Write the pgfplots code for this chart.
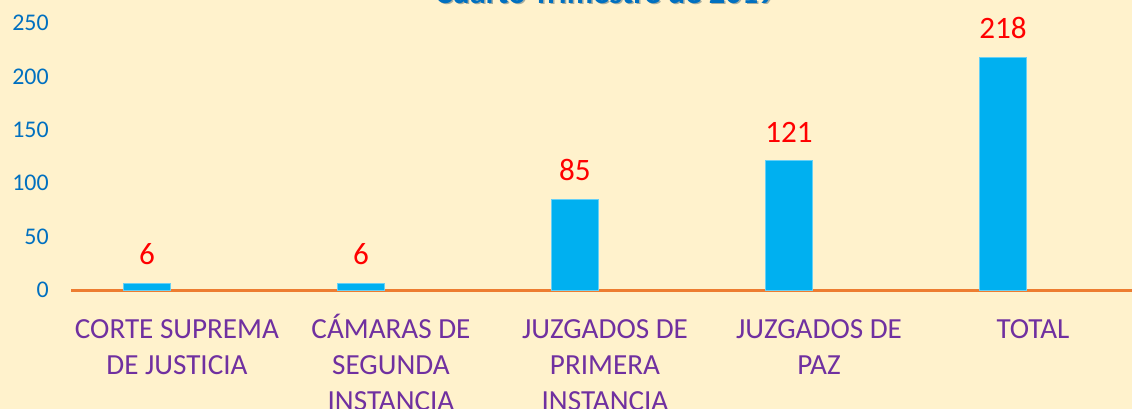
\documentclass[border=0pt]{standalone}
\usepackage{fontspec}
\setmainfont{Carlito}
\usepackage{pgfplots}
\pgfplotsset{compat=1.18}

\definecolor{fondo}{HTML}{FFF2CC}
\definecolor{barra}{HTML}{00B0F0}
\definecolor{naranja}{HTML}{ED7D31}
\definecolor{morado}{HTML}{7030A0}
\definecolor{azul}{HTML}{0070C0}

\begin{document}
\begin{tikzpicture}
  \useasboundingbox[fill=fondo] (0,0) rectangle (452.8bp,163.6bp);
  % title, cut off at the top edge as in the source picture
  \node[anchor=base, font=\fontsize{13}{15}\selectfont\bfseries, text=azul!40!black, opacity=0.35] at (242.6bp,161.6bp) {Cuarto Trimestre de 2019};
  \node[anchor=base, font=\fontsize{13}{15}\selectfont\bfseries, text=azul] at (242bp,162.2bp) {Cuarto Trimestre de 2019};
  \begin{axis}[
      at={(28.4bp,47.6bp)}, anchor=south west,
      scale only axis, width=424.4bp, height=106.8bp,
      ybar, bar width=18.8bp,
      xmin=-0.355, xmax=4.603, ymin=0, ymax=250,
      ytick={0,50,...,250},
      xtick={0,1,2,3,4},
      xticklabels={{\vphantom{Á}CORTE SUPREMA\\DE JUSTICIA},{\vphantom{Á}CÁMARAS DE\\SEGUNDA\\INSTANCIA},{\vphantom{Á}JUZGADOS DE\\PRIMERA\\INSTANCIA},{\vphantom{Á}JUZGADOS DE\\PAZ},{\vphantom{Á}TOTAL}},
      axis x line=bottom, axis y line=left,
      x axis line style={-, draw=naranja, line width=1.2bp},
      y axis line style={draw=none},
      tick style={draw=none},
      /pgf/number format/assume math mode=true,
      yticklabel style={font=\fontsize{9.6}{11}\selectfont, text=azul, anchor=east, inner sep=0pt, xshift=-6.6bp},
      xticklabel style={font=\fontsize{11.7}{14.4}\selectfont, text=morado, align=center, anchor=north, inner sep=0pt, yshift=-7.4bp, xshift=12bp},
      nodes near coords,
      every node near coord/.append style={font=\fontsize{12.5}{15}\selectfont, text=red, yshift=4bp},
      clip=false,
    ]
    \addplot[fill=barra, draw=barra!60!white, line width=0.3bp] coordinates {(0,6) (1,6) (2,85) (3,121) (4,218)};
  \end{axis}
\end{tikzpicture}
\end{document}
